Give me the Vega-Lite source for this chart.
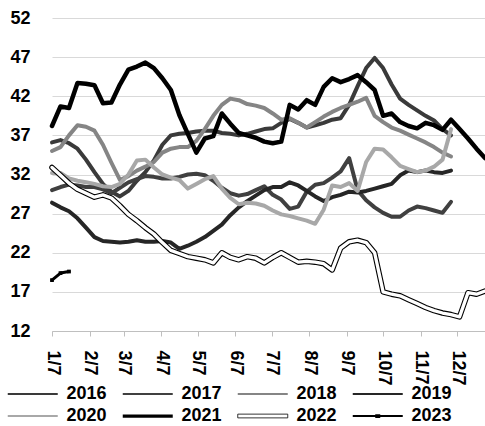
{
  "$schema": "https://vega.github.io/schema/vega-lite/v6.json",
  "width": 433,
  "height": 313,
  "autosize": {"type": "none"},
  "padding": {"left": 52, "top": 18, "right": 0, "bottom": 95},
  "background": "white",
  "config": {
    "view": {"stroke": null},
    "font": "Liberation Sans",
    "axis": {"labelFont": "Liberation Sans", "labelFontSize": 18, "labelFontWeight": "bold", "labelColor": "black", "title": null}
  },
  "data": {"values": [
    {"d":"2023/01/07","s":"2016","v":36.1},{"d":"2023/01/14","s":"2016","v":36.4},{"d":"2023/01/21","s":"2016","v":36.0},{"d":"2023/01/28","s":"2016","v":35.3},
    {"d":"2023/02/04","s":"2016","v":33.9},{"d":"2023/02/11","s":"2016","v":32.3},{"d":"2023/02/18","s":"2016","v":30.8},{"d":"2023/02/25","s":"2016","v":29.8},
    {"d":"2023/03/04","s":"2016","v":29.2},{"d":"2023/03/11","s":"2016","v":29.9},{"d":"2023/03/18","s":"2016","v":31.2},{"d":"2023/03/25","s":"2016","v":32.3},
    {"d":"2023/04/01","s":"2016","v":33.8},{"d":"2023/04/08","s":"2016","v":35.8},{"d":"2023/04/15","s":"2016","v":37.0},{"d":"2023/04/22","s":"2016","v":37.2},
    {"d":"2023/04/29","s":"2016","v":37.3},{"d":"2023/05/06","s":"2016","v":37.5},{"d":"2023/05/13","s":"2016","v":37.6},{"d":"2023/05/20","s":"2016","v":37.6},
    {"d":"2023/05/27","s":"2016","v":37.3},{"d":"2023/06/03","s":"2016","v":37.2},{"d":"2023/06/10","s":"2016","v":37.0},{"d":"2023/06/17","s":"2016","v":37.2},
    {"d":"2023/06/24","s":"2016","v":37.5},{"d":"2023/07/01","s":"2016","v":37.8},{"d":"2023/07/08","s":"2016","v":37.9},{"d":"2023/07/15","s":"2016","v":38.6},
    {"d":"2023/07/22","s":"2016","v":39.1},{"d":"2023/07/29","s":"2016","v":38.6},{"d":"2023/08/05","s":"2016","v":38.0},{"d":"2023/08/12","s":"2016","v":38.3},
    {"d":"2023/08/19","s":"2016","v":38.6},{"d":"2023/08/26","s":"2016","v":39.0},{"d":"2023/09/02","s":"2016","v":39.2},{"d":"2023/09/09","s":"2016","v":40.9},
    {"d":"2023/09/16","s":"2016","v":43.3},{"d":"2023/09/23","s":"2016","v":45.6},{"d":"2023/09/30","s":"2016","v":46.9},{"d":"2023/10/07","s":"2016","v":45.6},
    {"d":"2023/10/14","s":"2016","v":43.5},{"d":"2023/10/21","s":"2016","v":41.7},{"d":"2023/10/28","s":"2016","v":40.9},{"d":"2023/11/04","s":"2016","v":40.2},
    {"d":"2023/11/11","s":"2016","v":39.5},{"d":"2023/11/18","s":"2016","v":38.9},{"d":"2023/11/25","s":"2016","v":37.8},{"d":"2023/12/02","s":"2016","v":37.0},

    {"d":"2023/01/07","s":"2017","v":30.0},{"d":"2023/01/14","s":"2017","v":30.4},{"d":"2023/01/21","s":"2017","v":30.7},{"d":"2023/01/28","s":"2017","v":30.6},
    {"d":"2023/02/04","s":"2017","v":30.4},{"d":"2023/02/11","s":"2017","v":30.4},{"d":"2023/02/18","s":"2017","v":30.1},{"d":"2023/02/25","s":"2017","v":29.6},
    {"d":"2023/03/04","s":"2017","v":30.3},{"d":"2023/03/11","s":"2017","v":31.0},{"d":"2023/03/18","s":"2017","v":31.4},{"d":"2023/03/25","s":"2017","v":31.8},
    {"d":"2023/04/01","s":"2017","v":31.7},{"d":"2023/04/08","s":"2017","v":31.5},{"d":"2023/04/15","s":"2017","v":31.5},{"d":"2023/04/22","s":"2017","v":31.7},
    {"d":"2023/04/29","s":"2017","v":32.0},{"d":"2023/05/06","s":"2017","v":32.1},{"d":"2023/05/13","s":"2017","v":31.9},{"d":"2023/05/20","s":"2017","v":31.2},
    {"d":"2023/05/27","s":"2017","v":30.3},{"d":"2023/06/03","s":"2017","v":29.6},{"d":"2023/06/10","s":"2017","v":29.3},{"d":"2023/06/17","s":"2017","v":29.5},
    {"d":"2023/06/24","s":"2017","v":30.0},{"d":"2023/07/01","s":"2017","v":30.5},{"d":"2023/07/08","s":"2017","v":29.4},{"d":"2023/07/15","s":"2017","v":28.8},
    {"d":"2023/07/22","s":"2017","v":27.6},{"d":"2023/07/29","s":"2017","v":27.9},{"d":"2023/08/05","s":"2017","v":29.8},{"d":"2023/08/12","s":"2017","v":30.7},
    {"d":"2023/08/19","s":"2017","v":30.9},{"d":"2023/08/26","s":"2017","v":31.6},{"d":"2023/09/02","s":"2017","v":32.4},{"d":"2023/09/09","s":"2017","v":34.1},
    {"d":"2023/09/16","s":"2017","v":30.0},{"d":"2023/09/23","s":"2017","v":28.7},{"d":"2023/09/30","s":"2017","v":27.8},{"d":"2023/10/07","s":"2017","v":27.1},
    {"d":"2023/10/14","s":"2017","v":26.6},{"d":"2023/10/21","s":"2017","v":26.6},{"d":"2023/10/28","s":"2017","v":27.4},{"d":"2023/11/04","s":"2017","v":27.9},
    {"d":"2023/11/11","s":"2017","v":27.7},{"d":"2023/11/18","s":"2017","v":27.4},{"d":"2023/11/25","s":"2017","v":27.1},{"d":"2023/12/02","s":"2017","v":28.5},

    {"d":"2023/01/07","s":"2018","v":35.0},{"d":"2023/01/14","s":"2018","v":35.5},{"d":"2023/01/21","s":"2018","v":37.0},{"d":"2023/01/28","s":"2018","v":38.3},
    {"d":"2023/02/04","s":"2018","v":38.1},{"d":"2023/02/11","s":"2018","v":37.6},{"d":"2023/02/18","s":"2018","v":35.8},{"d":"2023/02/25","s":"2018","v":33.5},
    {"d":"2023/03/04","s":"2018","v":31.3},{"d":"2023/03/11","s":"2018","v":31.8},{"d":"2023/03/18","s":"2018","v":32.5},{"d":"2023/03/25","s":"2018","v":33.0},
    {"d":"2023/04/01","s":"2018","v":33.6},{"d":"2023/04/08","s":"2018","v":34.8},{"d":"2023/04/15","s":"2018","v":35.3},{"d":"2023/04/22","s":"2018","v":35.5},
    {"d":"2023/04/29","s":"2018","v":35.5},{"d":"2023/05/06","s":"2018","v":36.3},{"d":"2023/05/13","s":"2018","v":37.8},{"d":"2023/05/20","s":"2018","v":39.5},
    {"d":"2023/05/27","s":"2018","v":40.9},{"d":"2023/06/03","s":"2018","v":41.7},{"d":"2023/06/10","s":"2018","v":41.5},{"d":"2023/06/17","s":"2018","v":41.0},
    {"d":"2023/06/24","s":"2018","v":40.8},{"d":"2023/07/01","s":"2018","v":40.5},{"d":"2023/07/08","s":"2018","v":39.8},{"d":"2023/07/15","s":"2018","v":39.0},
    {"d":"2023/07/22","s":"2018","v":39.2},{"d":"2023/07/29","s":"2018","v":38.6},{"d":"2023/08/05","s":"2018","v":38.0},{"d":"2023/08/12","s":"2018","v":38.7},
    {"d":"2023/08/19","s":"2018","v":39.4},{"d":"2023/08/26","s":"2018","v":40.0},{"d":"2023/09/02","s":"2018","v":40.5},{"d":"2023/09/09","s":"2018","v":40.9},
    {"d":"2023/09/16","s":"2018","v":41.3},{"d":"2023/09/23","s":"2018","v":41.8},{"d":"2023/09/30","s":"2018","v":39.5},{"d":"2023/10/07","s":"2018","v":38.7},
    {"d":"2023/10/14","s":"2018","v":38.0},{"d":"2023/10/21","s":"2018","v":37.6},{"d":"2023/10/28","s":"2018","v":37.1},{"d":"2023/11/04","s":"2018","v":36.6},
    {"d":"2023/11/11","s":"2018","v":36.1},{"d":"2023/11/18","s":"2018","v":35.5},{"d":"2023/11/25","s":"2018","v":34.8},{"d":"2023/12/02","s":"2018","v":34.3},

    {"d":"2023/01/07","s":"2019","v":28.4},{"d":"2023/01/14","s":"2019","v":27.8},{"d":"2023/01/21","s":"2019","v":27.3},{"d":"2023/01/28","s":"2019","v":26.4},
    {"d":"2023/02/04","s":"2019","v":25.2},{"d":"2023/02/11","s":"2019","v":24.0},{"d":"2023/02/18","s":"2019","v":23.5},{"d":"2023/02/25","s":"2019","v":23.4},
    {"d":"2023/03/04","s":"2019","v":23.3},{"d":"2023/03/11","s":"2019","v":23.4},{"d":"2023/03/18","s":"2019","v":23.6},{"d":"2023/03/25","s":"2019","v":23.4},
    {"d":"2023/04/01","s":"2019","v":23.4},{"d":"2023/04/08","s":"2019","v":23.5},{"d":"2023/04/15","s":"2019","v":23.3},{"d":"2023/04/22","s":"2019","v":22.5},
    {"d":"2023/04/29","s":"2019","v":22.9},{"d":"2023/05/06","s":"2019","v":23.4},{"d":"2023/05/13","s":"2019","v":24.0},{"d":"2023/05/20","s":"2019","v":24.8},
    {"d":"2023/05/27","s":"2019","v":25.6},{"d":"2023/06/03","s":"2019","v":26.8},{"d":"2023/06/10","s":"2019","v":27.8},{"d":"2023/06/17","s":"2019","v":28.6},
    {"d":"2023/06/24","s":"2019","v":29.3},{"d":"2023/07/01","s":"2019","v":30.0},{"d":"2023/07/08","s":"2019","v":30.4},{"d":"2023/07/15","s":"2019","v":30.4},
    {"d":"2023/07/22","s":"2019","v":31.0},{"d":"2023/07/29","s":"2019","v":30.6},{"d":"2023/08/05","s":"2019","v":29.9},{"d":"2023/08/12","s":"2019","v":29.2},
    {"d":"2023/08/19","s":"2019","v":28.6},{"d":"2023/08/26","s":"2019","v":29.1},{"d":"2023/09/02","s":"2019","v":29.4},{"d":"2023/09/09","s":"2019","v":29.8},
    {"d":"2023/09/16","s":"2019","v":29.7},{"d":"2023/09/23","s":"2019","v":29.9},{"d":"2023/09/30","s":"2019","v":30.2},{"d":"2023/10/07","s":"2019","v":30.5},
    {"d":"2023/10/14","s":"2019","v":30.8},{"d":"2023/10/21","s":"2019","v":31.9},{"d":"2023/10/28","s":"2019","v":32.5},{"d":"2023/11/04","s":"2019","v":32.3},
    {"d":"2023/11/11","s":"2019","v":32.5},{"d":"2023/11/18","s":"2019","v":32.3},{"d":"2023/11/25","s":"2019","v":32.2},{"d":"2023/12/02","s":"2019","v":32.5},

    {"d":"2023/01/07","s":"2020","v":32.2},{"d":"2023/01/14","s":"2020","v":32.2},{"d":"2023/01/21","s":"2020","v":31.5},{"d":"2023/01/28","s":"2020","v":31.2},
    {"d":"2023/02/04","s":"2020","v":31.0},{"d":"2023/02/11","s":"2020","v":30.8},{"d":"2023/02/18","s":"2020","v":30.5},{"d":"2023/02/25","s":"2020","v":30.4},
    {"d":"2023/03/04","s":"2020","v":30.8},{"d":"2023/03/11","s":"2020","v":32.0},{"d":"2023/03/18","s":"2020","v":33.8},{"d":"2023/03/25","s":"2020","v":33.9},
    {"d":"2023/04/01","s":"2020","v":32.9},{"d":"2023/04/08","s":"2020","v":32.0},{"d":"2023/04/15","s":"2020","v":31.6},{"d":"2023/04/22","s":"2020","v":31.3},
    {"d":"2023/04/29","s":"2020","v":30.2},{"d":"2023/05/06","s":"2020","v":30.8},{"d":"2023/05/13","s":"2020","v":31.4},{"d":"2023/05/20","s":"2020","v":31.8},
    {"d":"2023/05/27","s":"2020","v":30.2},{"d":"2023/06/03","s":"2020","v":29.0},{"d":"2023/06/10","s":"2020","v":28.2},{"d":"2023/06/17","s":"2020","v":28.4},
    {"d":"2023/06/24","s":"2020","v":28.3},{"d":"2023/07/01","s":"2020","v":28.0},{"d":"2023/07/08","s":"2020","v":27.4},{"d":"2023/07/15","s":"2020","v":26.9},
    {"d":"2023/07/22","s":"2020","v":26.7},{"d":"2023/07/29","s":"2020","v":26.4},{"d":"2023/08/05","s":"2020","v":26.1},{"d":"2023/08/12","s":"2020","v":25.7},
    {"d":"2023/08/19","s":"2020","v":27.5},{"d":"2023/08/26","s":"2020","v":30.6},{"d":"2023/09/02","s":"2020","v":30.4},{"d":"2023/09/09","s":"2020","v":30.9},
    {"d":"2023/09/16","s":"2020","v":29.9},{"d":"2023/09/23","s":"2020","v":33.6},{"d":"2023/09/30","s":"2020","v":35.3},{"d":"2023/10/07","s":"2020","v":35.2},
    {"d":"2023/10/14","s":"2020","v":34.2},{"d":"2023/10/21","s":"2020","v":33.1},{"d":"2023/10/28","s":"2020","v":32.7},{"d":"2023/11/04","s":"2020","v":32.3},
    {"d":"2023/11/11","s":"2020","v":32.5},{"d":"2023/11/18","s":"2020","v":33.0},{"d":"2023/11/25","s":"2020","v":33.9},{"d":"2023/12/02","s":"2020","v":37.8},

    {"d":"2023/01/07","s":"2021","v":38.2},{"d":"2023/01/14","s":"2021","v":40.7},{"d":"2023/01/21","s":"2021","v":40.5},{"d":"2023/01/28","s":"2021","v":43.7},
    {"d":"2023/02/04","s":"2021","v":43.6},{"d":"2023/02/11","s":"2021","v":43.4},{"d":"2023/02/18","s":"2021","v":41.1},{"d":"2023/02/25","s":"2021","v":41.2},
    {"d":"2023/03/04","s":"2021","v":43.5},{"d":"2023/03/11","s":"2021","v":45.4},{"d":"2023/03/18","s":"2021","v":45.8},{"d":"2023/03/25","s":"2021","v":46.3},
    {"d":"2023/04/01","s":"2021","v":45.6},{"d":"2023/04/08","s":"2021","v":44.3},{"d":"2023/04/15","s":"2021","v":42.8},{"d":"2023/04/22","s":"2021","v":39.6},
    {"d":"2023/04/29","s":"2021","v":37.2},{"d":"2023/05/06","s":"2021","v":34.8},{"d":"2023/05/13","s":"2021","v":36.6},{"d":"2023/05/20","s":"2021","v":36.9},
    {"d":"2023/05/27","s":"2021","v":39.8},{"d":"2023/06/03","s":"2021","v":38.5},{"d":"2023/06/10","s":"2021","v":37.3},{"d":"2023/06/17","s":"2021","v":37.0},
    {"d":"2023/06/24","s":"2021","v":36.7},{"d":"2023/07/01","s":"2021","v":36.2},{"d":"2023/07/08","s":"2021","v":36.0},{"d":"2023/07/15","s":"2021","v":36.2},
    {"d":"2023/07/22","s":"2021","v":40.9},{"d":"2023/07/29","s":"2021","v":40.3},{"d":"2023/08/05","s":"2021","v":41.5},{"d":"2023/08/12","s":"2021","v":40.9},
    {"d":"2023/08/19","s":"2021","v":43.2},{"d":"2023/08/26","s":"2021","v":44.3},{"d":"2023/09/02","s":"2021","v":43.8},{"d":"2023/09/09","s":"2021","v":44.2},
    {"d":"2023/09/16","s":"2021","v":44.7},{"d":"2023/09/23","s":"2021","v":43.8},{"d":"2023/09/30","s":"2021","v":42.8},{"d":"2023/10/07","s":"2021","v":39.5},
    {"d":"2023/10/14","s":"2021","v":39.8},{"d":"2023/10/21","s":"2021","v":38.7},{"d":"2023/10/28","s":"2021","v":38.2},{"d":"2023/11/04","s":"2021","v":37.9},
    {"d":"2023/11/11","s":"2021","v":38.6},{"d":"2023/11/18","s":"2021","v":38.3},{"d":"2023/11/25","s":"2021","v":37.7},{"d":"2023/12/02","s":"2021","v":39.0},
    {"d":"2023/12/09","s":"2021","v":37.8},{"d":"2023/12/16","s":"2021","v":36.6},{"d":"2023/12/23","s":"2021","v":35.3},{"d":"2023/12/30","s":"2021","v":34.1},

    {"d":"2023/01/07","s":"2022","v":32.9},{"d":"2023/01/14","s":"2022","v":31.9},{"d":"2023/01/21","s":"2022","v":30.9},{"d":"2023/01/28","s":"2022","v":30.1},
    {"d":"2023/02/04","s":"2022","v":29.6},{"d":"2023/02/11","s":"2022","v":29.1},{"d":"2023/02/18","s":"2022","v":29.4},{"d":"2023/02/25","s":"2022","v":29.0},
    {"d":"2023/03/04","s":"2022","v":28.0},{"d":"2023/03/11","s":"2022","v":26.9},{"d":"2023/03/18","s":"2022","v":26.1},{"d":"2023/03/25","s":"2022","v":25.2},
    {"d":"2023/04/01","s":"2022","v":24.4},{"d":"2023/04/08","s":"2022","v":23.3},{"d":"2023/04/15","s":"2022","v":22.3},{"d":"2023/04/22","s":"2022","v":21.9},
    {"d":"2023/04/29","s":"2022","v":21.5},{"d":"2023/05/06","s":"2022","v":21.3},{"d":"2023/05/13","s":"2022","v":21.1},{"d":"2023/05/20","s":"2022","v":20.7},
    {"d":"2023/05/27","s":"2022","v":22.0},{"d":"2023/06/03","s":"2022","v":21.4},{"d":"2023/06/10","s":"2022","v":21.1},{"d":"2023/06/17","s":"2022","v":21.5},
    {"d":"2023/06/24","s":"2022","v":21.3},{"d":"2023/07/01","s":"2022","v":20.7},{"d":"2023/07/08","s":"2022","v":21.4},{"d":"2023/07/15","s":"2022","v":22.0},
    {"d":"2023/07/22","s":"2022","v":21.4},{"d":"2023/07/29","s":"2022","v":20.8},{"d":"2023/08/05","s":"2022","v":20.9},{"d":"2023/08/12","s":"2022","v":20.8},
    {"d":"2023/08/19","s":"2022","v":20.6},{"d":"2023/08/26","s":"2022","v":19.8},{"d":"2023/09/02","s":"2022","v":22.6},{"d":"2023/09/09","s":"2022","v":23.4},
    {"d":"2023/09/16","s":"2022","v":23.6},{"d":"2023/09/23","s":"2022","v":23.3},{"d":"2023/09/30","s":"2022","v":22.0},{"d":"2023/10/07","s":"2022","v":17.0},
    {"d":"2023/10/14","s":"2022","v":16.7},{"d":"2023/10/21","s":"2022","v":16.5},{"d":"2023/10/28","s":"2022","v":16.0},{"d":"2023/11/04","s":"2022","v":15.5},
    {"d":"2023/11/11","s":"2022","v":15.0},{"d":"2023/11/18","s":"2022","v":14.6},{"d":"2023/11/25","s":"2022","v":14.3},{"d":"2023/12/02","s":"2022","v":14.1},
    {"d":"2023/12/09","s":"2022","v":13.8},{"d":"2023/12/16","s":"2022","v":16.9},{"d":"2023/12/23","s":"2022","v":16.7},{"d":"2023/12/30","s":"2022","v":17.1},

    {"d":"2023/01/07","s":"2023","v":18.5},{"d":"2023/01/14","s":"2023","v":19.4},{"d":"2023/01/21","s":"2023","v":19.6}
  ]},
  "encoding": {
    "x": {
      "field": "d", "type": "temporal",
      "scale": {"domain": [{"year": 2023, "month": 1, "date": 7}, {"year": 2023, "month": 12, "date": 30}]},
      "axis": {
        "values": [
          {"year": 2023, "month": 1, "date": 7}, {"year": 2023, "month": 2, "date": 7}, {"year": 2023, "month": 3, "date": 7},
          {"year": 2023, "month": 4, "date": 7}, {"year": 2023, "month": 5, "date": 7}, {"year": 2023, "month": 6, "date": 7},
          {"year": 2023, "month": 7, "date": 7}, {"year": 2023, "month": 8, "date": 7}, {"year": 2023, "month": 9, "date": 7},
          {"year": 2023, "month": 10, "date": 7}, {"year": 2023, "month": 11, "date": 7}, {"year": 2023, "month": 12, "date": 7}
        ],
        "format": "%-m/%-d", "labelAngle": 90, "labelPadding": 14, "tickSize": 5,
        "tickColor": "#bfbfbf", "domainColor": "#bfbfbf", "grid": false,
        "labelOverlap": false, "labelBound": false, "labelFlush": false
      }
    },
    "y": {
      "field": "v", "type": "quantitative",
      "scale": {"domain": [12, 52], "nice": false, "zero": false},
      "axis": {
        "values": [12, 17, 22, 27, 32, 37, 42, 47, 52],
        "grid": true, "gridColor": "#d9d9d9", "domain": false, "ticks": false, "labelPadding": 22
      }
    }
  },
  "layer": [
    {
      "transform": [{"filter": "datum.s <= '2020'"}],
      "mark": {"type": "line", "strokeWidth": 4, "strokeJoin": "round", "strokeCap": "round"},
      "encoding": {
        "color": {
          "field": "s", "type": "nominal",
          "scale": {
            "domain": ["2016", "2017", "2018", "2019", "2020", "2021", "2022", "2023"],
            "range": ["#3a3a3a", "#404040", "#858585", "#262626", "#a8a8a8", "#000000", "#000000", "#000000"]
          },
          "legend": {
            "orient": "none", "direction": "horizontal", "legendX": -47, "legendY": 367, "columns": 4, "title": null,
            "symbolSize": 156.25, "symbolType": "M-1,-0.16H7V0.16H-1Z", "symbolStrokeWidth": 0,
            "labelFont": "Liberation Sans", "labelFontSize": 18, "labelFontWeight": "bold", "labelColor": "black",
            "labelOffset": 43.5, "columnPadding": 13, "rowPadding": 4,
            "encode": {
              "symbols": {
                "update": {
                  "shape": {"signal": "datum.value === '2022' ? 'M-1,-0.3H7V0.3H-1Z' : (datum.value === '2021' ? 'M-1,-0.26H7V0.26H-1Z' : (datum.value === '2023' ? 'M-1,-0.15H7V0.15H-1Z M2.6,-0.3H3.4V0.3H2.6Z' : 'M-1,-0.16H7V0.16H-1Z'))"},
                  "fill": {"signal": "datum.value === '2022' ? '#ffffff' : scale('color', datum.value)"},
                  "stroke": {"signal": "datum.value === '2022' ? '#000000' : 'transparent'"},
                  "strokeWidth": {"signal": "datum.value === '2022' ? 0.8 : 0"},
                  "opacity": {"value": 1}
                }
              }
            }
          }
        }
      }
    },
    {
      "transform": [{"filter": "datum.s === '2021'"}],
      "mark": {"type": "line", "color": "#000000", "strokeWidth": 4.5, "strokeJoin": "round", "strokeCap": "round"},
      "encoding": {}
    },
    {
      "transform": [{"filter": "datum.s === '2022'"}],
      "mark": {"type": "line", "color": "#000000", "strokeWidth": 5.5, "strokeJoin": "round", "strokeCap": "round"},
      "encoding": {}
    },
    {
      "transform": [{"filter": "datum.s === '2022'"}],
      "mark": {"type": "line", "color": "#ffffff", "strokeWidth": 3.3, "strokeJoin": "round", "strokeCap": "round"},
      "encoding": {}
    },
    {
      "transform": [{"filter": "datum.s === '2023'"}],
      "mark": {"type": "line", "color": "#000000", "strokeWidth": 3, "strokeJoin": "round", "strokeCap": "round"},
      "encoding": {}
    },
    {
      "transform": [{"filter": "datum.s === '2023'"}],
      "mark": {"type": "point", "shape": "square", "filled": true, "color": "#000000", "size": 14, "opacity": 1},
      "encoding": {}
    }
  ]
}
